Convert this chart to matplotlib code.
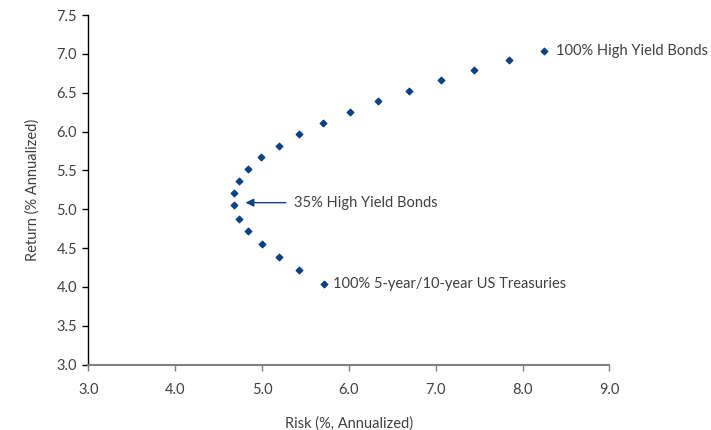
import matplotlib.pyplot as plt

plt.rcParams['font.family'] = ['Lato', 'DejaVu Sans']

risk = [5.71, 5.43, 5.20, 5.00, 4.84, 4.73, 4.68, 4.68, 4.73, 4.84, 4.99,
        5.19, 5.43, 5.70, 6.01, 6.33, 6.69, 7.06, 7.44, 7.84, 8.25]
ret = [4.04, 4.22, 4.39, 4.55, 4.72, 4.88, 5.05, 5.21, 5.36, 5.52, 5.67,
       5.82, 5.97, 6.11, 6.25, 6.39, 6.52, 6.66, 6.79, 6.92, 7.04]

x_ticks = [3.0, 4.0, 5.0, 6.0, 7.0, 8.0, 9.0]
y_ticks = [3.0, 3.5, 4.0, 4.5, 5.0, 5.5, 6.0, 6.5, 7.0, 7.5]

blue = '#0b4283'
grey = '#404040'
fs = 10.5

fig = plt.figure(figsize=(7.11, 4.30), dpi=100)
ax = fig.add_axes([0.1242, 0.152, 0.733, 0.813])

ax.scatter(risk, ret, marker='D', s=11, color=blue, zorder=3)

ax.set_xlim(3.0, 9.0)
ax.set_ylim(3.0, 7.5)
ax.set_xticks(x_ticks)
ax.set_yticks(y_ticks)
ax.set_xticklabels(['%.1f' % v for v in x_ticks])
ax.set_yticklabels(['%.1f' % v for v in y_ticks])

for s in ['top', 'right']:
    ax.spines[s].set_visible(False)
ax.spines['left'].set_color('black')
ax.spines['left'].set_linewidth(1.0)
ax.spines['bottom'].set_color('#808080')
ax.spines['bottom'].set_linewidth(1.5)
ax.tick_params(axis='x', colors=grey, labelsize=fs, length=4, width=1,
               direction='out', pad=9)
ax.tick_params(axis='x', color='#808080')
ax.tick_params(axis='y', colors=grey, labelsize=fs, length=4, width=1,
               direction='out', pad=4)
ax.tick_params(axis='y', color='black')

ax.set_xlabel('Risk (%, Annualized)', color=grey, fontsize=fs, labelpad=14)
ax.set_ylabel('Return (% Annualized)', color=grey, fontsize=fs, labelpad=12)

ax.text(8.38, 7.04, '100% High Yield Bonds', color=grey, fontsize=fs,
        va='center', ha='left')
ax.text(5.82, 4.04, '100% 5-year/10-year US Treasuries', color=grey,
        fontsize=fs, va='center', ha='left')
ax.annotate('35% High Yield Bonds', xy=(4.81, 5.085), xytext=(5.37, 5.085),
            color=grey, fontsize=fs, va='center', ha='left',
            arrowprops=dict(arrowstyle='-|>', color=blue, lw=1.0,
                            mutation_scale=12, shrinkA=4, shrinkB=0))

fig.savefig('out.png', dpi=100)
